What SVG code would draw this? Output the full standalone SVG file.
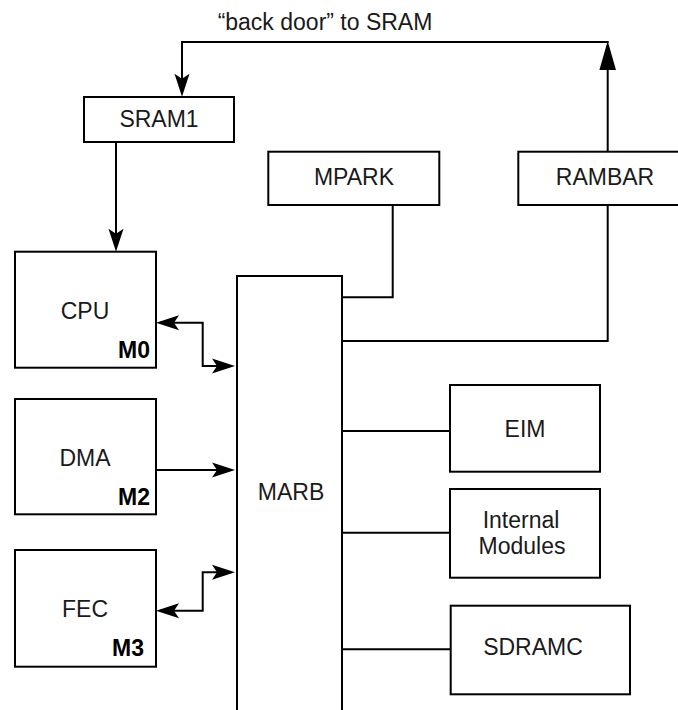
<svg xmlns="http://www.w3.org/2000/svg" width="678" height="710" viewBox="0 0 678 710">
<style>
.box{fill:#fff;stroke:#000;stroke-width:2}
.lbl{font-family:"Liberation Sans",Arial,Helvetica,sans-serif;font-size:23px;fill:#1a1a1a;text-anchor:middle}
.m{font-family:"Liberation Sans",Arial,Helvetica,sans-serif;font-size:23px;font-weight:bold;fill:#000;text-anchor:end}
.c{fill:none;stroke:#000;stroke-width:2}
</style>
<defs>
<marker id="ah" markerUnits="userSpaceOnUse" markerWidth="30" markerHeight="20" viewBox="-20 -10 30 20" refX="0" refY="0" orient="auto-start-reverse" overflow="visible">
<path d="M4,0 L-19,-7.5 L-14,0 L-19,7.5 Z" fill="#000"/>
</marker>
<marker id="big" markerUnits="userSpaceOnUse" markerWidth="40" markerHeight="24" viewBox="-30 -12 40 24" refX="0" refY="0" orient="auto" overflow="visible">
<path d="M4,0 L-25,-8.3 L-25,8.3 Z" fill="#000"/>
</marker>
</defs>
<rect width="678" height="710" fill="#fff"/>
<g id="connectors">
<path class="c" d="M607.7,152 V45" marker-end="url(#big)"/>
<path class="c" d="M608.7,42 H182 V92.7" marker-end="url(#ah)"/>
<path class="c" d="M116,142 V247.7" marker-end="url(#ah)"/>
<path class="c" d="M160,322.7 H202.7 V366 H231" marker-start="url(#ah)" marker-end="url(#ah)"/>
<path class="c" d="M156,470 H231" marker-end="url(#ah)"/>
<path class="c" d="M160,610.7 H202.7 V572.3 H231" marker-start="url(#ah)" marker-end="url(#ah)"/>
<path class="c" d="M392.7,205 V297.3 H342"/>
<path class="c" d="M607.7,205 V341 H342"/>
<path class="c" d="M342,431 H450"/>
<path class="c" d="M342,532.7 H450"/>
<path class="c" d="M342,649.3 H450.7"/>
</g>
<text class="lbl" x="325" y="30">“back door” to SRAM</text>
<g id="SRAM1">
<rect class="box" x="84" y="97" width="150" height="45"/>
<text class="lbl" x="159" y="127">SRAM1</text>
</g>
<g id="MPARK">
<rect class="box" x="268.3" y="151.7" width="171" height="53.3"/>
<text class="lbl" x="354" y="185">MPARK</text>
</g>
<g id="RAMBAR">
<rect class="box" x="518.3" y="151.7" width="175" height="53.3"/>
<text class="lbl" x="605" y="185">RAMBAR</text>
</g>
<g id="CPU">
<rect class="box" x="15" y="251.7" width="141" height="116"/>
<text class="lbl" x="85" y="319">CPU</text>
<text class="m" x="150" y="358">M0</text>
</g>
<g id="DMA">
<rect class="box" x="15" y="399" width="141" height="115.3"/>
<text class="lbl" x="85" y="466">DMA</text>
<text class="m" x="150" y="505">M2</text>
</g>
<g id="FEC">
<rect class="box" x="15" y="550" width="141" height="116.7"/>
<text class="lbl" x="85" y="617">FEC</text>
<text class="m" x="144" y="656">M3</text>
</g>
<g id="MARB">
<rect class="box" x="237" y="276" width="105" height="450"/>
<text class="lbl" x="291" y="500">MARB</text>
</g>
<g id="EIM">
<rect class="box" x="450" y="385" width="150" height="86.7"/>
<text class="lbl" x="525" y="437">EIM</text>
</g>
<g id="InternalModules">
<rect class="box" x="450" y="489" width="150" height="88.7"/>
<text class="lbl" x="521" y="528">Internal</text>
<text class="lbl" x="522" y="554">Modules</text>
</g>
<g id="SDRAMC">
<rect class="box" x="450.7" y="605.7" width="179.3" height="88.6"/>
<text class="lbl" x="533" y="655">SDRAMC</text>
</g>
</svg>
